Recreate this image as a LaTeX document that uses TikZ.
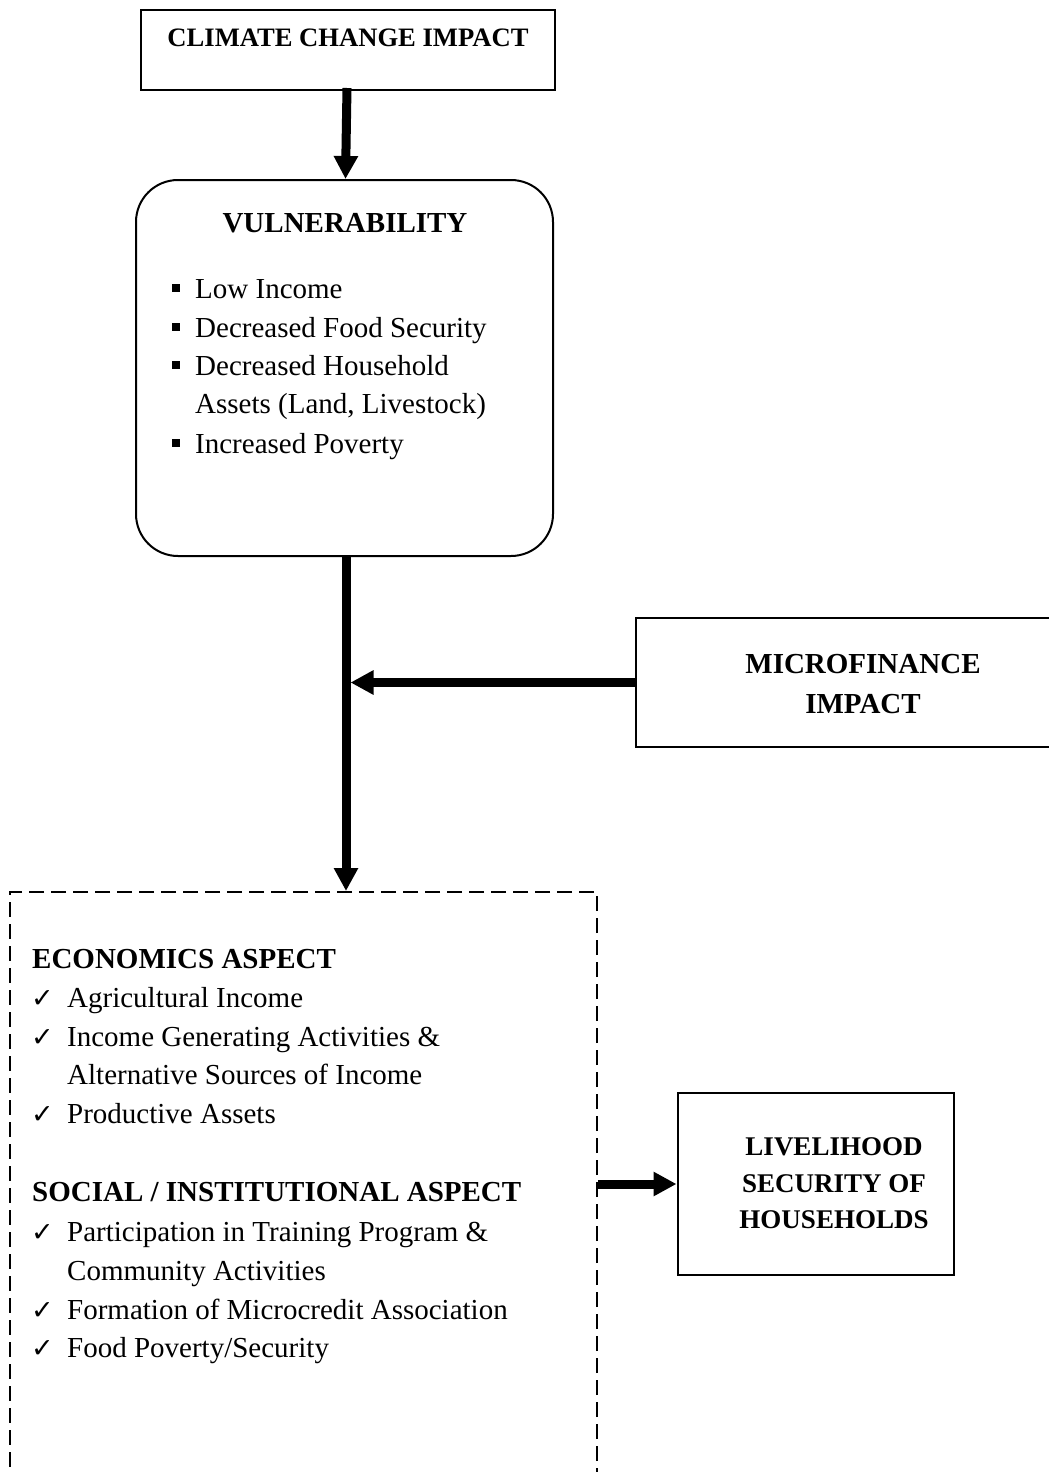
\documentclass[tikz,border=0pt]{standalone}
\usepackage{fontspec}
\setmainfont{Liberation Serif}
\newfontfamily\symfont{DejaVu Sans}
\usetikzlibrary{arrows.meta}
\tikzset{
  box/.style={draw, line width=2pt, inner sep=0pt},
  bigarrow/.style={line width=9pt, -{Triangle[length=23pt,width=23pt]}},
  txt/.style={inner sep=0pt, anchor=base west, font=\fontsize{29}{34}\selectfont},
  head/.style={inner sep=0pt, anchor=base, font=\fontsize{29}{34}\selectfont\bfseries},
  headl/.style={inner sep=0pt, anchor=base west, font=\fontsize{29}{34}\selectfont\bfseries},
  smallhead/.style={inner sep=0pt, anchor=base, font=\fontsize{26.6}{32}\selectfont\bfseries},
  livehead/.style={inner sep=0pt, anchor=base, font=\fontsize{27}{32}\selectfont\bfseries},
  sq/.style={inner sep=0pt, anchor=base west},
  chk/.style={inner sep=0pt, anchor=base west, font=\symfont\fontsize{27}{30}\selectfont},
}
\begin{document}
\begin{tikzpicture}[x=1pt,y=-1pt]
\useasboundingbox (0,0) rectangle (1049,1472);
% boxes
\node[box, minimum width=414pt, minimum height=80pt] (clim) at (348,50) {};
\node[box, rounded corners=42pt, minimum width=417pt, minimum height=376pt] (vul) at (344.5,368) {};
\node[box, minimum width=420pt, minimum height=129pt] (mf) at (846,682.5) {};
\node[box, minimum width=276pt, minimum height=182pt] (live) at (815.5,1184) {};
\node[box, dashed, dash pattern=on 15pt off 7pt, minimum width=587pt, minimum height=620pt] (dash) at (303.5,1202) {};
% texts
\node[smallhead] (climt) at (348,47) {CLIMATE CHANGE IMPACT};
\node[head] (vult) at (345,232) {VULNERABILITY};
\node[sq] (b1) at (172,298) {\rule[6pt]{8pt}{8pt}};
\node[txt] (v1) at (195,298) {Low Income};
\node[sq] (b2) at (172,337) {\rule[6pt]{8pt}{8pt}};
\node[txt] (v2) at (195,337) {Decreased Food Security};
\node[sq] (b3) at (172,375) {\rule[6pt]{8pt}{8pt}};
\node[txt] (v3) at (195,375) {Decreased Household};
\node[txt] (v3b) at (195,413) {Assets (Land, Livestock)};
\node[sq] (b4) at (172,453) {\rule[6pt]{8pt}{8pt}};
\node[txt] (v4) at (195,453) {Increased Poverty};
\node[head] (mft1) at (863,673) {MICROFINANCE};
\node[head] (mft2) at (863,713) {IMPACT};
\node[livehead] (lt1) at (834,1155) {LIVELIHOOD};
\node[livehead] (lt2) at (834,1192) {SECURITY OF};
\node[livehead] (lt3) at (834,1228) {HOUSEHOLDS};
\node[headl] (eco) at (32,968) {ECONOMICS ASPECT};
\node[chk] (c1) at (31,1007) {✓};
\node[txt] (e1) at (67,1007) {Agricultural Income};
\node[chk] (c2) at (31,1046) {✓};
\node[txt] (e2) at (67,1046) {Income Generating Activities \&};
\node[txt] (e2b) at (67,1084) {Alternative Sources of Income};
\node[chk] (c3) at (31,1123) {✓};
\node[txt] (e3) at (67,1123) {Productive Assets};
\node[headl] (soc) at (32,1201) {SOCIAL / INSTITUTIONAL ASPECT};
\node[chk] (c4) at (31,1241) {✓};
\node[txt] (s1) at (67,1241) {Participation in Training Program \&};
\node[txt] (s1b) at (67,1280) {Community Activities};
\node[chk] (c5) at (31,1319) {✓};
\node[txt] (s2) at (67,1319) {Formation of Microcredit Association};
\node[chk] (c6) at (31,1357) {✓};
\node[txt] (s3) at (67,1357) {Food Poverty/Security};
% connectors
\coordinate (top1) at ([xshift=-1pt,yshift=3pt]clim.south);
\coordinate (vt) at ([xshift=1pt]vul.north);
\draw[bigarrow] (top1) -- (vt);
\coordinate (vb) at ([xshift=1.5pt]vul.south);
\coordinate (dt) at (vb |- dash.north);
\draw[bigarrow] (vb) -- (dt);
\coordinate (j) at ([xshift=4.5pt]vb |- mf.west);
\draw[bigarrow] (mf.west) -- (j);
\coordinate (ls) at (dash.east |- live.west);
\draw[bigarrow] (ls) -- (live.west);
\end{tikzpicture}
\end{document}
